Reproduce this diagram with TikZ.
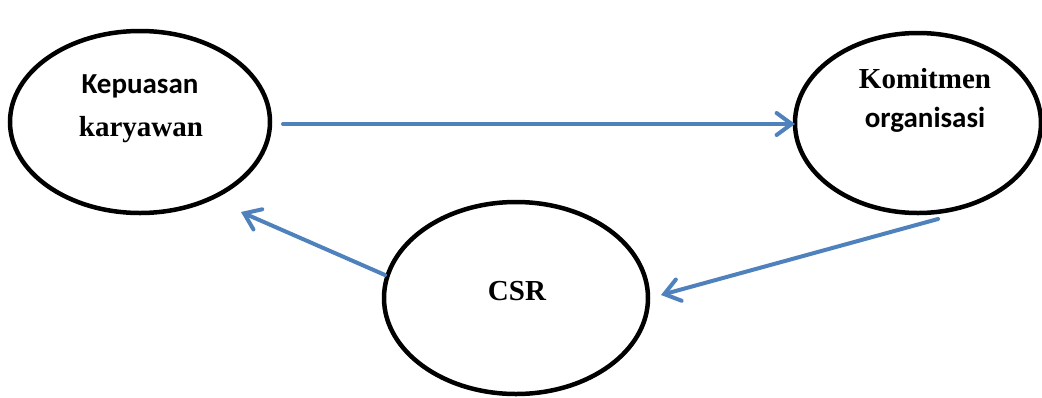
\documentclass[tikz,border=0pt]{standalone}
\usepackage{fontspec}
\setmainfont{Liberation Serif}
\newfontfamily\carl{Carlito}
\usetikzlibrary{arrows.meta,shapes.geometric}
\definecolor{arrowblue}{RGB}{79,129,189}
\tikzset{
  oval/.style={ellipse, draw=black, line width=4.5pt, inner sep=0pt},
  conn/.style={draw=arrowblue, line width=4pt, line cap=round,
    -{Straight Barb[length=15pt,width=22pt,line cap=round]}},
  lbl/.style={anchor=base, inner sep=0pt, font=\fontsize{29}{34}\selectfont\bfseries}
}
\begin{document}
\begin{tikzpicture}[x=1pt,y=-1pt]
\useasboundingbox (0,0) rectangle (1042,397);
\node[oval, minimum width=260pt, minimum height=182pt] (kep) at (140,122) {};
\node[oval, minimum width=246pt, minimum height=180pt] (kom) at (918,123) {};
\node[oval, minimum width=264pt, minimum height=192pt] (csr) at (516,298) {};
\node[lbl, font=\fontsize{29}{34}\selectfont\bfseries\carl] (t1) at (140,93) {Kepuasan};
\node[lbl] (t2) at (141,136) {karyawan};
\node[lbl] (t3) at (925,88) {Komitmen};
\node[lbl, font=\fontsize{29}{34}\selectfont\bfseries\carl] (t4) at (925,127) {organisasi};
\node[lbl] (t5) at (517,300) {CSR};
\coordinate (a1s) at (283,124);
\coordinate (a1e) at (795,124);
\coordinate (a2s) at (938,219);
\coordinate (a2e) at (661,295);
\coordinate (a3s) at (385,275);
\coordinate (a3e) at (241,212);
\draw[conn] (a1s) -- (a1e);
\draw[conn] (a2s) -- (a2e);
\draw[conn] (a3s) -- (a3e);
\end{tikzpicture}
\end{document}
